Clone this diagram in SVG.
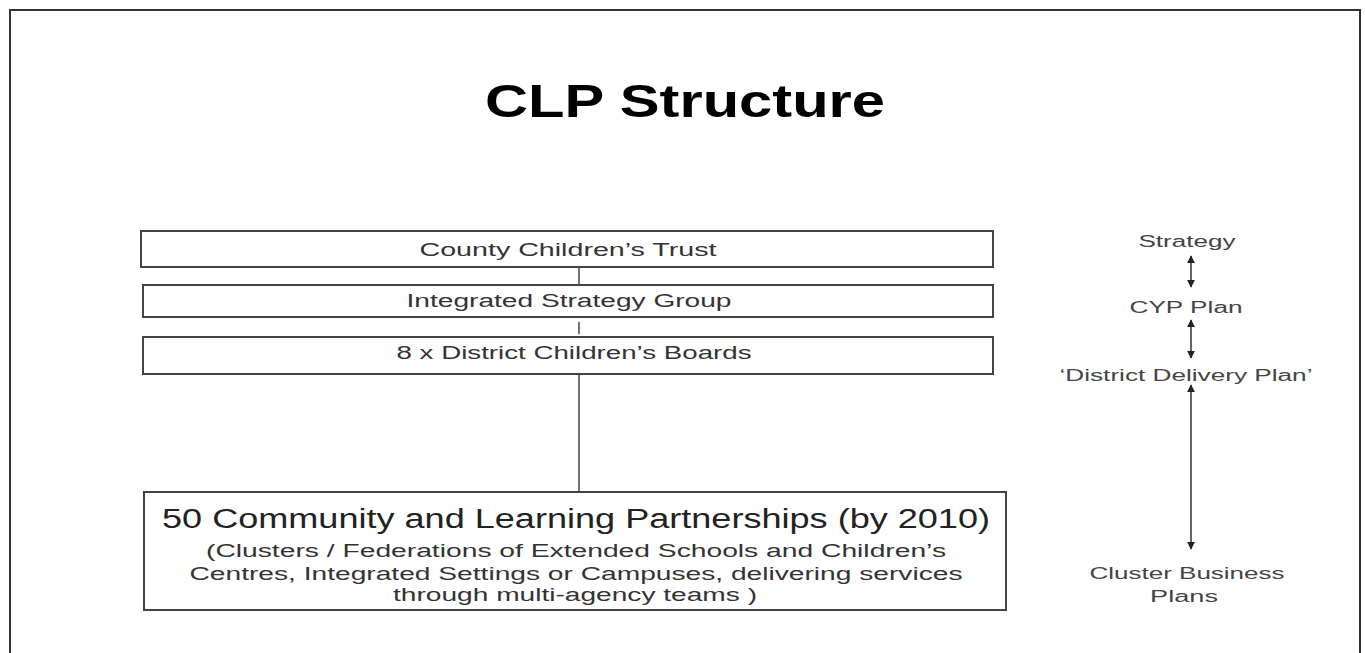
<svg xmlns="http://www.w3.org/2000/svg" width="1365" height="653" viewBox="0 0 1365 653">
  <defs>
    <marker id="tip" viewBox="0 0 10 10" refX="9" refY="5" markerWidth="8" markerHeight="8" markerUnits="userSpaceOnUse" orient="auto-start-reverse">
      <path d="M0,0 L10,5 L0,10 z" fill="#222"/>
    </marker>
    <style>
      .frame { stroke: #333; stroke-width: 2; fill: none; }
      .box { fill: #fff; stroke: #444; stroke-width: 2; }
      .t { font-family: "Liberation Sans", Arial, sans-serif; text-anchor: middle; }
      .title { font-size: 46px; font-weight: bold; fill: #000; }
      .lbl { font-size: 18px; fill: #333; }
      .big { font-size: 27px; fill: #222; }
      .side { font-size: 16px; fill: #444; }
      .link { stroke: #444; stroke-width: 1.5; fill: none; }
      .arr { stroke: #333; stroke-width: 1.5; fill: none; marker-start: url(#tip); marker-end: url(#tip); }
    </style>
  </defs>
  <rect width="1365" height="653" fill="#fff"/>

  <!-- page frame -->
  <path class="frame" d="M10,653 V10 H1360 V653"/>

  <!-- heading -->
  <text class="t title" x="685" y="117" textLength="400" lengthAdjust="spacingAndGlyphs">CLP Structure</text>

  <!-- hierarchy links -->
  <g id="connectors">
    <line class="link" x1="579" y1="267" x2="579" y2="285"/>
    <line class="link" x1="579" y1="322" x2="579" y2="334"/>
    <line class="link" x1="579" y1="374" x2="579" y2="492" stroke="#888"/>
    <line class="arr" x1="1191" y1="256" x2="1191" y2="287"/>
    <line class="arr" x1="1191" y1="320" x2="1191" y2="358"/>
    <line class="arr" x1="1191" y1="385" x2="1191" y2="549"/>
  </g>

  <g id="trust">
    <rect class="box" x="141" y="231" width="852" height="36"/>
    <text class="t lbl" x="568" y="256" textLength="297" lengthAdjust="spacingAndGlyphs">County Children’s Trust</text>
  </g>

  <g id="strategy-group">
    <rect class="box" x="143" y="285" width="850" height="32"/>
    <text class="t lbl" x="569" y="307" textLength="325" lengthAdjust="spacingAndGlyphs">Integrated Strategy Group</text>
  </g>

  <g id="district-boards">
    <rect class="box" x="143" y="337" width="850" height="37"/>
    <text class="t lbl" x="574" y="359" textLength="355" lengthAdjust="spacingAndGlyphs">8 x District Children’s Boards</text>
  </g>

  <g id="partnerships">
    <rect class="box" x="144" y="492" width="862" height="118"/>
    <text class="t big" x="576" y="528" textLength="828" lengthAdjust="spacingAndGlyphs">50 Community and Learning Partnerships (by 2010)</text>
    <text class="t lbl" x="576" y="557" textLength="740" lengthAdjust="spacingAndGlyphs">(Clusters / Federations of Extended Schools and Children’s</text>
    <text class="t lbl" x="576" y="580" textLength="773" lengthAdjust="spacingAndGlyphs">Centres, Integrated Settings or Campuses, delivering services</text>
    <text class="t lbl" x="575" y="601" textLength="364" lengthAdjust="spacingAndGlyphs">through multi-agency teams )</text>
  </g>

  <g id="plan-strategy">
    <text class="t side" x="1187" y="247" textLength="97" lengthAdjust="spacingAndGlyphs">Strategy</text>
  </g>
  <g id="plan-cyp">
    <text class="t side" x="1186" y="313" textLength="113" lengthAdjust="spacingAndGlyphs">CYP Plan</text>
  </g>
  <g id="plan-district">
    <text class="t side" x="1186" y="381" textLength="253" lengthAdjust="spacingAndGlyphs">‘District Delivery Plan’</text>
  </g>
  <g id="plan-cluster">
    <text class="t side" x="1187" y="579" textLength="195" lengthAdjust="spacingAndGlyphs">Cluster Business</text>
    <text class="t side" x="1184" y="602" textLength="68" lengthAdjust="spacingAndGlyphs">Plans</text>
  </g>
</svg>
